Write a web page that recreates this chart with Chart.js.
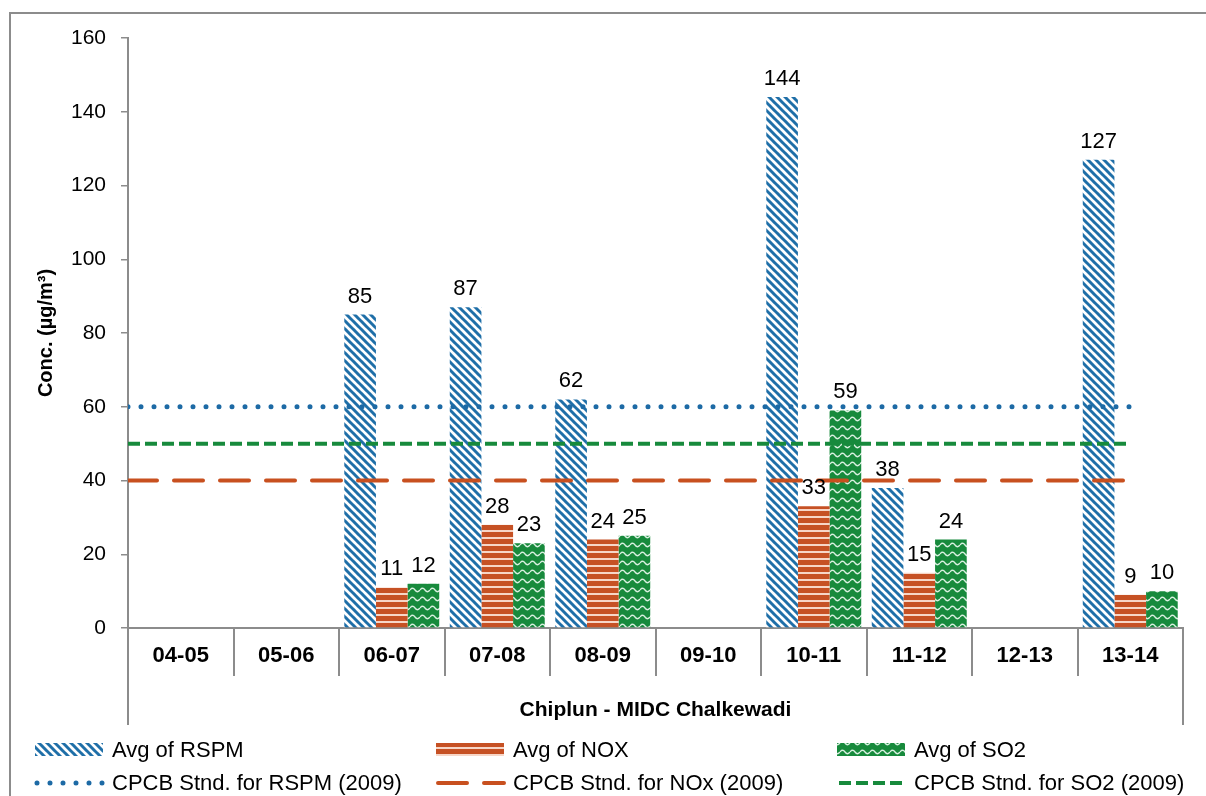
<!DOCTYPE html>
<html lang="en">
  <head>
    <meta charset="UTF-8" />
    <title>Chiplun - MIDC Chalkewadi</title>
    <script src="https://cdn.jsdelivr.net/npm/chart.js@4"></script>
    <style>
      body {
        margin: 0;
        background: #ffffff;
      }
      canvas {
        display: block;
      }
    </style>
  </head>
  <body>
    <canvas id="airChart" width="1206" height="796"></canvas>

    <script>
      // Station years and yearly averages (µg/m³); null = not monitored
      const years = ["04-05", "05-06", "06-07", "07-08", "08-09", "09-10", "10-11", "11-12", "12-13", "13-14"];
      const rspm = [null, null, 85, 87, 62, null, 144, 38, null, 127];
      const nox = [null, null, 11, 28, 24, null, 33, 15, null, 9];
      const so2 = [null, null, 12, 23, 25, null, 59, 24, null, 10];

      // CPCB 2009 annual standards
      const stdRspm = 60;
      const stdNox = 40;
      const stdSo2 = 50;
      // standards run from the axis to the last year (in year-index units)
      const stdSpan = [-0.5, 9];

      const yTicks = [0, 20, 40, 60, 80, 100, 120, 140, 160];

      const FONT = '"Liberation Sans", Arial, sans-serif';
      const GREY = "#8c8c8c";
      Chart.defaults.font.family = FONT;
      Chart.defaults.color = "#000";

      const canvas = document.getElementById("airChart");
      const ctx = canvas.getContext("2d");

      function makePattern(w, h, paint) {
        const c = document.createElement("canvas");
        c.width = w;
        c.height = h;
        paint(c.getContext("2d"), w, h);
        return ctx.createPattern(c, "repeat");
      }

      // wide downward diagonal
      const rspmFill = makePattern(8, 8, (g) => {
        g.fillStyle = "#ffffff";
        g.fillRect(0, 0, 8, 8);
        g.strokeStyle = "#1f6fa8";
        g.lineWidth = 3;
        for (const o of [-8, 0, 8]) {
          g.beginPath();
          g.moveTo(o - 1, -1);
          g.lineTo(o + 9, 9);
          g.stroke();
        }
      });

      // horizontal stripes
      const noxFill = makePattern(8, 7, (g) => {
        g.fillStyle = "#c65124";
        g.fillRect(0, 0, 8, 7);
        g.fillStyle = "#f2c3ad";
        g.fillRect(0, 5, 8, 2);
        g.fillStyle = "#fbe9e1";
        g.fillRect(0, 5.5, 8, 1);
      });

      // wave
      const so2Fill = makePattern(10, 9, (g) => {
        g.fillStyle = "#178a3c";
        g.fillRect(0, 0, 10, 9);
        g.strokeStyle = "#d9efe0";
        g.lineWidth = 1.3;
        g.beginPath();
        g.moveTo(0, 5);
        g.quadraticCurveTo(2.5, 1.5, 5, 5);
        g.quadraticCurveTo(7.5, 8.5, 10, 5);
        g.stroke();
      });

      // one linear x axis carries both the bars and the standards
      const toPoints = (values) => values.map((v, i) => ({ x: i, y: v }));

      const stdLine = (label, value, color, width, dash, cap) => ({
        type: "line",
        label: label,
        data: stdSpan.map((x) => ({ x: x, y: value })),
        borderColor: color,
        borderWidth: width,
        borderDash: dash,
        borderCapStyle: cap,
        pointRadius: 0,
        fill: false,
        order: 0,
      });

      // year boundaries: grid ticks sit between the years
      const boundaries = years.map((_, i) => i - 0.5).concat([years.length - 0.5]);

      // value labels above bars
      const barLabels = {
        id: "barLabels",
        afterDatasetsDraw(chart) {
          const c = chart.ctx;
          c.save();
          c.font = "22px " + FONT;
          c.fillStyle = "#000";
          c.textAlign = "center";
          c.textBaseline = "alphabetic";
          chart.data.datasets.forEach((ds, i) => {
            if (ds.type !== "bar") return;
            chart.getDatasetMeta(i).data.forEach((bar, j) => {
              const v = ds.data[j].y;
              if (v == null) return;
              c.fillText(String(v), bar.x, bar.y - 12);
            });
          });
          c.restore();
        },
      };

      // outer frame, axis extensions and the two-row legend
      const decorations = {
        id: "decorations",
        afterDraw(chart) {
          const c = chart.ctx;
          const area = chart.chartArea;
          const xs = chart.scales.x;
          c.save();
          c.strokeStyle = GREY;
          c.lineWidth = 2;
          c.beginPath();
          c.moveTo(10, 796);
          c.lineTo(10, 13);
          c.lineTo(1206, 13);
          c.stroke();

          c.beginPath();
          c.moveTo(area.left, area.bottom);
          c.lineTo(area.left, xs.bottom);
          c.moveTo(area.right, area.bottom);
          c.lineTo(area.right, xs.bottom);
          c.stroke();

          const cols = [35, 436, 837];
          const rows = [750, 783];
          c.font = "22px " + FONT;
          c.textBaseline = "middle";
          c.textAlign = "left";
          chart.data.datasets.forEach((ds, i) => {
            const x = cols[i % 3];
            const y = rows[Math.floor(i / 3)];
            if (ds.type === "bar") {
              c.fillStyle = ds.backgroundColor;
              c.fillRect(x, y - 7, 68, 13);
            } else {
              c.strokeStyle = ds.borderColor;
              c.lineWidth = ds.borderWidth;
              c.lineCap = ds.borderCapStyle;
              c.setLineDash(ds.borderDash);
              c.beginPath();
              c.moveTo(x + 2, y);
              c.lineTo(x + 68, y);
              c.stroke();
              c.setLineDash([]);
            }
            c.fillStyle = "#000";
            c.fillText(ds.label, x + 77, y + 1);
          });
          c.restore();
        },
      };

      new Chart(ctx, {
        type: "bar",
        data: {
          datasets: [
            { type: "bar", label: "Avg of RSPM", data: toPoints(rspm), backgroundColor: rspmFill, order: 1 },
            { type: "bar", label: "Avg of NOX", data: toPoints(nox), backgroundColor: noxFill, order: 1 },
            { type: "bar", label: "Avg of SO2", data: toPoints(so2), backgroundColor: so2Fill, order: 1 },
            stdLine("CPCB Stnd. for RSPM (2009)", stdRspm, "#1d6aa5", 5, [0, 13], "round"),
            stdLine("CPCB Stnd. for NOx (2009)", stdNox, "#c8501f", 4, [29, 17], "round"),
            stdLine("CPCB Stnd. for SO2 (2009)", stdSo2, "#178a3c", 4, [12, 5], "butt"),
          ],
        },
        options: {
          responsive: false,
          animation: false,
          datasets: {
            bar: { categoryPercentage: 0.9, barPercentage: 1 },
          },
          layout: { padding: { left: 0, top: 38, right: 23, bottom: 71 } },
          plugins: {
            legend: { display: false },
            tooltip: { enabled: false },
          },
          scales: {
            x: {
              type: "linear",
              min: -0.5,
              max: years.length - 0.5,
              offset: false,
              afterBuildTicks(scale) {
                scale.ticks = boundaries.map((v) => ({ value: v }));
              },
              grid: {
                offset: false,
                drawOnChartArea: false,
                tickLength: 48,
                color: GREY,
                lineWidth: 2,
              },
              border: { color: GREY, width: 2 },
              ticks: {
                font: { size: 22, weight: "bold" },
                color: "#000",
                padding: -33,
                maxRotation: 0,
                autoSkip: false,
                labelOffset: 52.75,
                callback: (value) => years[value + 0.5] || "",
              },
              title: {
                display: true,
                text: "Chiplun - MIDC Chalkewadi",
                font: { size: 21, weight: "bold" },
                color: "#000",
                padding: { top: 0, bottom: 2 },
              },
              afterFit(scale) {
                scale.height = 97;
              },
            },
            y: {
              min: 0,
              max: 160,
              afterBuildTicks(scale) {
                scale.ticks = yTicks.map((v) => ({ value: v }));
              },
              grid: {
                drawOnChartArea: false,
                tickLength: 7,
                color: GREY,
                lineWidth: 1.5,
              },
              border: { color: GREY, width: 2 },
              ticks: {
                font: { size: 21 },
                color: "#000",
                padding: 15,
              },
              title: {
                display: true,
                text: "Conc. (µg/m³)",
                font: { size: 20, weight: "bold" },
                color: "#000",
                padding: { top: 34, bottom: 0 },
              },
              afterFit(scale) {
                scale.width = 128;
              },
            },
          },
        },
        plugins: [barLabels, decorations],
      });
    </script>
  </body>
</html>
